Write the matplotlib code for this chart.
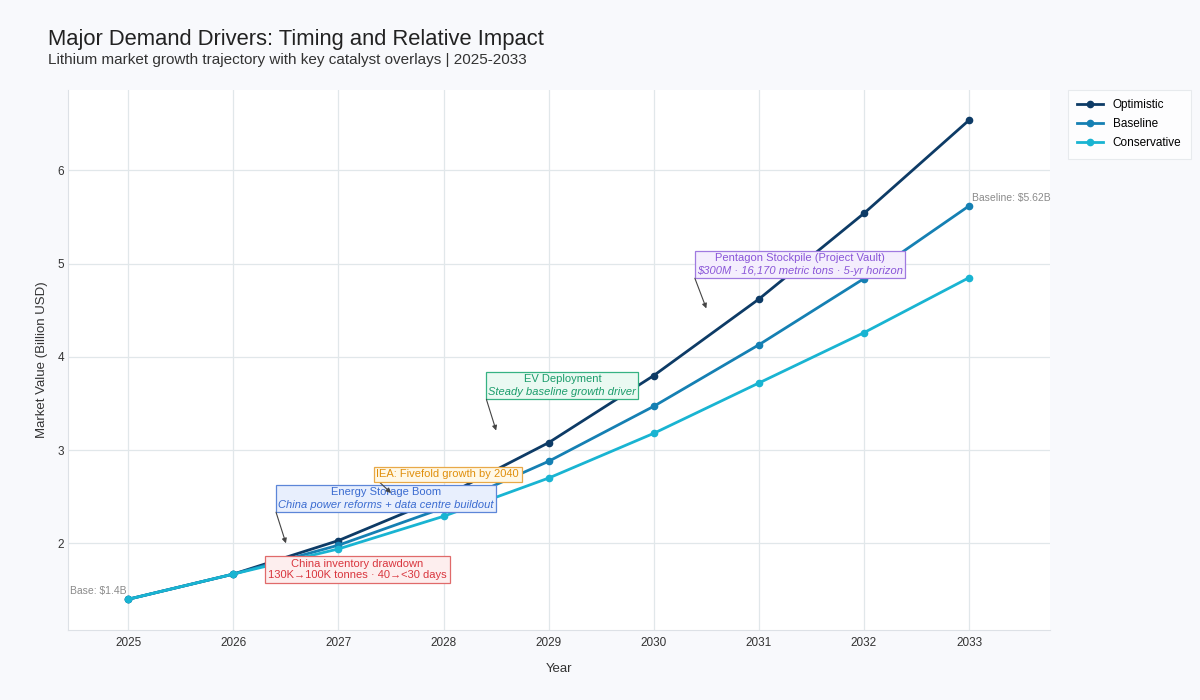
import numpy as np
import matplotlib
matplotlib.use("Agg")
import matplotlib.pyplot as plt
from matplotlib.patches import Rectangle
from matplotlib.transforms import Bbox

plt.rcParams['font.family'] = ['Liberation Sans', 'DejaVu Sans']

years = [2025, 2026, 2027, 2028, 2029, 2030, 2031, 2032, 2033]
optimistic = [1.40, 1.67, 2.03, 2.50, 3.08, 3.80, 4.62, 5.54, 6.54]
baseline = [1.40, 1.67, 1.98, 2.38, 2.88, 3.47, 4.13, 4.84, 5.62]
conservative = [1.40, 1.67, 1.94, 2.29, 2.70, 3.18, 3.72, 4.26, 4.85]

series_names = ["Optimistic", "Baseline", "Conservative"]
series_colors = ["#0d3b66", "#1580b3", "#19b4d2"]

# catalyst annotations: header, italic detail (or None), target, box centre, text colour, fill, edge
catalysts = [
    ("China inventory drawdown\n130K\u2192100K tonnes \u00b7 40\u2192<30 days", None,
     (2026.5, 1.60), (2027.18, 1.72), "#d9363e", "#fdeeee", "#e06a6a"),
    ("Energy Storage Boom", "China power reforms + data centre buildout",
     (2026.5, 2.00), (2027.45, 2.48), "#3a6bd0", "#e8effd", "#5c86d8"),
    ("IEA: Fivefold growth by 2040", None,
     (2027.5, 2.54), (2028.04, 2.74), "#e08f0c", "#fff8e6", "#e8a948"),
    ("EV Deployment", "Steady baseline growth driver",
     (2028.5, 3.21), (2029.13, 3.69), "#1b9c6b", "#eaf9f2", "#36b283"),
    ("Pentagon Stockpile (Project Vault)", "$300M \u00b7 16,170 metric tons \u00b7 5-yr horizon",
     (2030.5, 4.52), (2031.39, 4.99), "#8a55d8", "#f4eefd", "#a07ae0"),
]

fig = plt.figure(figsize=(12, 7), dpi=100)
fig.patch.set_facecolor("#f8f9fc")
ax = fig.add_axes([0.057, 0.1, 0.818, 0.771])
ax.set_facecolor("white")

for name, vals, col in zip(series_names, [optimistic, baseline, conservative], series_colors):
    ax.plot(years, vals, color=col, lw=2.0, marker="o", ms=4.5, label=name, zorder=3)

ax.set_xlim(2024.43, 2033.77)
ax.set_ylim(1.07, 6.86)

fs = 8
arrow_kw = dict(arrowstyle="-|>", color="#444444", lw=0.8, relpos=(0, 0),
                mutation_scale=7, shrinkA=0, shrinkB=0)
pending = []
for head, detail, xy, xyt, tc, fc, ec in catalysts:
    if detail is None:
        ax.annotate(head, xy=xy, xytext=xyt, ha="center", va="center", fontsize=fs,
                    color=tc, zorder=7,
                    bbox=dict(boxstyle="square,pad=0.25", fc=fc, ec=ec, lw=0.9),
                    arrowprops=arrow_kw)
    else:
        half = fs * 1.2 / 2
        t1 = ax.annotate(head, xy=xyt, xytext=(0, half), textcoords="offset points",
                         ha="center", va="center", fontsize=fs, color=tc, zorder=6)
        t2 = ax.annotate(detail, xy=xyt, xytext=(0, -half), textcoords="offset points",
                         ha="center", va="center", fontsize=fs, color=tc, style="italic", zorder=6)
        pending.append((t1, t2, xy, fc, ec))

# boxes around the two-style annotations, sized from the drawn text
fig.canvas.draw()
r = fig.canvas.get_renderer()
inv = ax.transData.inverted()
for t1, t2, xy, fc, ec in pending:
    bb = Bbox.union([t1.get_window_extent(r), t2.get_window_extent(r)]).padded(2)
    (x0, y0), (x1, y1) = inv.transform([[bb.x0, bb.y0], [bb.x1, bb.y1]])
    ax.add_patch(Rectangle((x0, y0), x1 - x0, y1 - y0, fc=fc, ec=ec, lw=0.9, zorder=5))
    ax.annotate("", xy=xy, xytext=(x0, y0), zorder=6,
                arrowprops=dict(arrow_kw, relpos=(0.5, 0.5)))

ax.text(2024.98, 1.49, "Base: $1.4B", ha="right", va="center", fontsize=7.5, color="#8a8a8a")
ax.text(2033.03, 5.70, "Baseline: $5.62B", ha="left", va="center", fontsize=7.5, color="#8a8a8a")

ax.set_xticks(years)
ax.set_yticks([2, 3, 4, 5, 6])
ax.grid(True, color="#e1e7ea", lw=0.9)
ax.set_axisbelow(True)
for side in ["top", "right"]:
    ax.spines[side].set_visible(False)
for side in ["left", "bottom"]:
    ax.spines[side].set_color("#dde1e6")
ax.tick_params(axis="x", length=0, labelsize=8.5, colors="#333333", pad=5)
ax.tick_params(axis="y", length=0, labelsize=8.5, colors="#333333", pad=3)
ax.set_xlabel("Year", fontsize=9.5, color="#333333", labelpad=10)
ax.set_ylabel("Market Value (Billion USD)", fontsize=9.5, color="#333333", labelpad=7)

leg = ax.legend(loc="upper left", bbox_to_anchor=(1.012, 1.012), fontsize=8.5,
                frameon=True, fancybox=False, edgecolor="#e3e6ea", borderpad=0.8,
                handlelength=2.2, labelspacing=0.6)
leg.get_frame().set_linewidth(0.8)

fig.text(0.04, 0.935, "Major Demand Drivers: Timing and Relative Impact", fontsize=15.8, color="#222222")
fig.text(0.04, 0.909, "Lithium market growth trajectory with key catalyst overlays | 2025-2033",
         fontsize=11, color="#333333")

fig.savefig("out.png", dpi=100, facecolor=fig.get_facecolor())
